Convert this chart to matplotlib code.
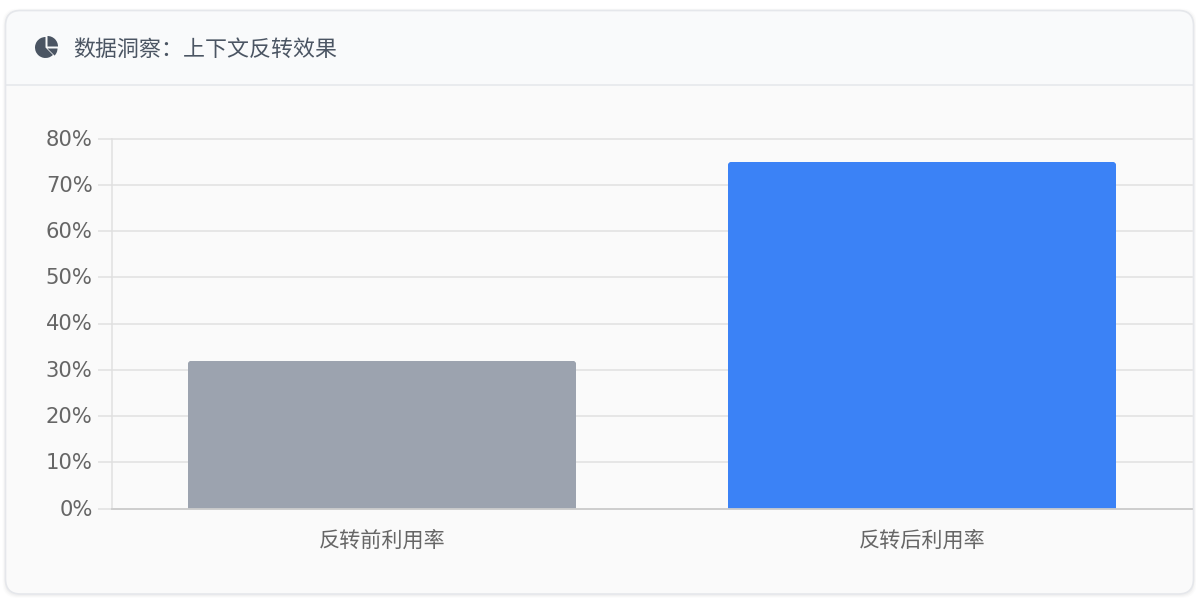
import matplotlib
matplotlib.use("Agg")
import matplotlib.pyplot as plt
from matplotlib.patches import FancyBboxPatch, Wedge, Rectangle
from matplotlib.transforms import Affine2D

plt.rcParams['font.family'] = ['DejaVu Sans', 'Noto Sans CJK SC']

title = "数据洞察：上下文反转效果"
categories = ["反转前利用率", "反转后利用率"]
values = [32, 75]
colors = ["#9ca3af", "#3b82f6"]
yticks = [0, 10, 20, 30, 40, 50, 60, 70, 80]

W, H = 1196, 600
fig = plt.figure(figsize=(W / 100, H / 100), dpi=100, facecolor="#ffffff")

bg = fig.add_axes([0, 0, 1, 1])
bg.set_xlim(0, W)
bg.set_ylim(H, 0)
bg.axis("off")

def rounded(x0, y0, x1, y1, r, **kw):
    return FancyBboxPatch((x0 + r, y0 + r), x1 - x0 - 2 * r, y1 - y0 - 2 * r,
                          boxstyle=f"round,pad={r},rounding_size={r}", **kw)

# soft card shadow
for grow, alpha in [(3, 0.012), (2, 0.018), (1, 0.025)]:
    bg.add_patch(rounded(5.5 - grow, 10.5 - grow + 1, 1193.5 + grow, 594 + grow + 1, 15,
                         fc="#000000", ec="none", alpha=alpha))
card = rounded(5.5, 10.5, 1193.5, 594, 15, fc="#fafafa", ec="none", zorder=1)
bg.add_patch(card)
header = Rectangle((5, 10), 1190, 75, fc="#f9fafb", ec="none", zorder=1.1)
bg.add_patch(header)
header.set_clip_path(card)
bg.plot([6, 1193], [85, 85], color="#e5e7eb", lw=1.1, zorder=1.2, solid_capstyle="butt")
bg.add_patch(rounded(5.5, 10.5, 1193.5, 594, 15, fc="none", ec="#e5e7eb", lw=1.2, zorder=1.3))

# header icon (y axis of this layer points down, so wedge angles run clockwise)
ic = "#4b5563"
bg.add_patch(Wedge((45.5, 47.5), 10.5, 45, 270, fc=ic, ec="none", zorder=2))
bg.add_patch(Wedge((47.5, 46.5), 10.5, 270, 360, fc=ic, ec="none", zorder=2))
bg.add_patch(Wedge((47.5, 48.5), 10.0, 0, 45, fc=ic, ec="none", zorder=2))

bg.text(73.5, 49.5, title, fontsize=15.8, color=ic, va="center", ha="left", zorder=2)

# chart
x0, x1, ytop, ybot = 112, 1192, 138.5, 508.5
ax = fig.add_axes([x0 / W, 1 - ybot / H, (x1 - x0) / W, (ybot - ytop) / H])
ax.patch.set_alpha(0)
ax.set_xlim(-0.5, 1.5)
ax.set_ylim(0, 80)
ax.set_axisbelow(True)
ax.grid(axis="y", color="#e0e0e0", lw=1.1, clip_on=False)
ax.set_yticks(yticks)
ax.set_yticklabels([f"{v}%" for v in yticks], fontsize=15.2, color="#666666")
ax.set_xticks(range(len(categories)))
ax.set_xticklabels(categories, fontsize=15.2, color="#666666")
ax.tick_params(axis="y", length=10, width=1.1, color="#e0e0e0", pad=4)
ax.tick_params(axis="x", length=0, pad=16)
for s in ("top", "right"):
    ax.spines[s].set_visible(False)
ax.spines["left"].set_color("#e0e0e0")
ax.spines["left"].set_linewidth(1.1)
ax.spines["bottom"].set_color("#cccccc")
ax.spines["bottom"].set_linewidth(1.3)
for lab in ax.get_yticklabels():
    lab.set_transform(lab.get_transform() + Affine2D().translate(0, 1))

bars = ax.bar(range(len(values)), values, width=0.72, color=colors, zorder=2)
fig.canvas.draw()
for b in bars:
    # round only the top corners: clip each bar with a rounded box in display space
    bb = b.get_window_extent()
    r = 5
    clip = FancyBboxPatch((bb.x0 + r, bb.y0 - 20), bb.width - 2 * r, bb.height + 20 - r,
                          boxstyle=f"round,pad={r},rounding_size={r}",
                          transform=None, fc="none", ec="none")
    b.set_clip_path(clip.get_path(), clip.get_transform())

fig.savefig("out.png", dpi=100, facecolor=fig.get_facecolor())
